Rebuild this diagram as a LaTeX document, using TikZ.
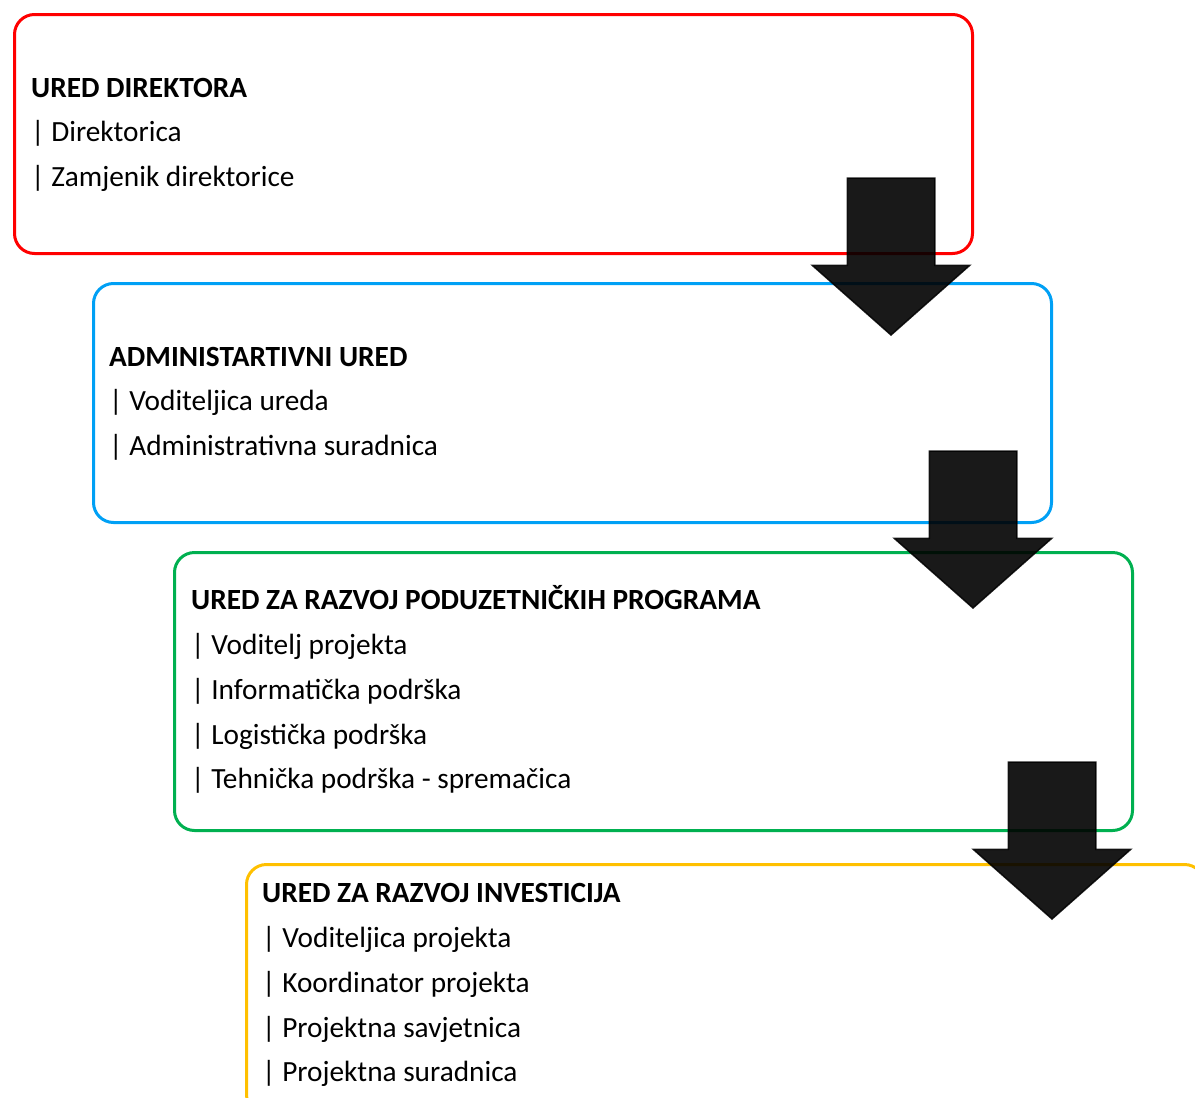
\documentclass[tikz,border=0pt]{standalone}
\usepackage{fontspec}
\setmainfont{Carlito}
\usetikzlibrary{shapes.arrows}
\definecolor{officered}{HTML}{FF0000}
\definecolor{officeblue}{HTML}{00A0F5}
\definecolor{officegreen}{HTML}{00B050}
\definecolor{officeyellow}{HTML}{FFC000}
\tikzset{
    office/.style={draw=#1, line width=3pt, rounded corners=20pt, minimum width=958pt, anchor=north west, inner sep=0pt},
    headline/.style={anchor=base west, inner sep=0pt, font=\fontsize{29.3}{34}\selectfont\bfseries},
    entry/.style={anchor=base west, inner sep=0pt, font=\fontsize{29.3}{34}\selectfont},
    downarrow/.style={single arrow, rotate=-90, anchor=tip, fill=black, fill opacity=0.9, draw=black, draw opacity=0.85, line width=1.5pt, inner xsep=0pt, inner ysep=43pt, minimum width=154pt, minimum height=157pt, single arrow head extend=35pt, single arrow tip angle=97}
}
\begin{document}
\begin{tikzpicture}[x=1pt,y=-1pt]
                \useasboundingbox (0,0) rectangle (1195,1098);

                \node[office=officered, minimum height=239pt] (direktor) at (13,13) {};
                \node[office=officeblue, minimum height=239pt] (admin) at (92,282) {};
                \node[office=officegreen, minimum height=278pt] (poduzet) at (173,551) {};
                \node[office=officeyellow, minimum height=250pt] (invest) at (245,863) {};

                \node[headline] (direktortitle) at (31,97) {URED DIREKTORA};
                \node[entry] (direktorica) at (31,141) {| Direktorica};
                \node[entry] (zamjenik) at (31,186) {| Zamjenik direktorice};

                \node[headline] (admintitle) at (109,366) {ADMINISTARTIVNI URED};
                \node[entry] (voditeljica) at (109,410) {| Voditeljica ureda};
                \node[entry] (suradnica) at (109,455) {| Administrativna suradnica};

                \node[headline] (poduzettitle) at (191,609) {URED ZA RAZVOJ PODUZETNIČKIH PROGRAMA};
                \node[entry] (voditelj) at (191,654) {| Voditelj projekta};
                \node[entry] (informatika) at (191,699) {| Informatička podrška};
                \node[entry] (logistika) at (191,744) {| Logistička podrška};
                \node[entry] (tehnika) at (191,788) {| Tehnička podrška - spremačica};

                \node[headline] (investtitle) at (262,902) {URED ZA RAZVOJ INVESTICIJA};
                \node[entry] (voditeljicap) at (262,947) {| Voditeljica projekta};
                \node[entry] (koordinator) at (262,992) {| Koordinator projekta};
                \node[entry] (savjetnica) at (262,1037) {| Projektna savjetnica};
                \node[entry] (suradnicap) at (262,1081) {| Projektna suradnica};

                \node[downarrow] (arrowa) at (891,336) {};
                \node[downarrow] (arrowb) at (973,609) {};
                \node[downarrow] (arrowc) at (1052,920) {};
            \end{tikzpicture}
\end{document}
